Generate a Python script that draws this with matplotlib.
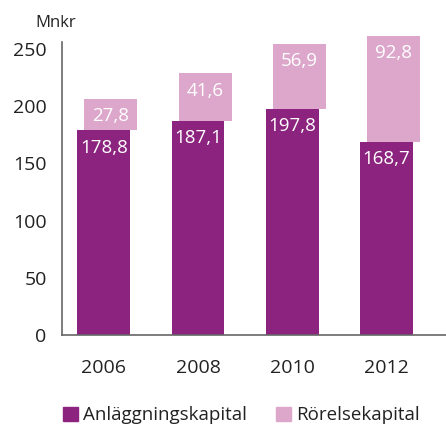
import matplotlib
matplotlib.use('Agg')
import matplotlib.pyplot as plt
from matplotlib.patches import Patch

plt.rcParams['font.family'] = ['Open Sans', 'DejaVu Sans']

years = ['2006', '2008', '2010', '2012']
anlaggning = [178.8, 187.1, 197.8, 168.7]
rorelse = [27.8, 41.6, 56.9, 92.8]
labels_a = ['178,8', '187,1', '197,8', '168,7']
labels_r = ['27,8', '41,6', '56,9', '92,8']

purple = '#8C237E'
pink = '#DDA6CB'
txt = '#222222'

fig = plt.figure(figsize=(4.46, 4.29), dpi=100)
ax = fig.add_axes([0.139, 0.219, 0.861, 0.683])

x = range(len(years))
w = 0.56
off = 0.075
ax.bar(x, anlaggning, width=w, color=purple, zorder=2)
xr = [i + off for i in x]
ax.bar(xr, rorelse, width=w, bottom=anlaggning, color=pink, zorder=1, clip_on=False)

for i in x:
    ax.annotate(labels_a[i], (i, anlaggning[i]), xytext=(0, -12.5), textcoords='offset points',
                ha='center', va='center', color='white', fontsize=13.5, zorder=3)
    ax.annotate(labels_r[i], (i + off, anlaggning[i] + rorelse[i]), xytext=(0, -12.5),
                textcoords='offset points', ha='center', va='center', color='white',
                fontsize=13.5, zorder=3, annotation_clip=False)

ax.set_xlim(-0.443, 3.63)
ax.set_ylim(0, 256)
ax.set_yticks([0, 50, 100, 150, 200, 250])
ax.set_xticks(list(x))
ax.set_xticklabels(years)
ax.tick_params(axis='both', length=0, labelsize=14, colors=txt)
ax.tick_params(axis='y', pad=11)
ax.tick_params(axis='x', pad=17)
for s in ['top', 'right']:
    ax.spines[s].set_visible(False)
for s in ['left', 'bottom']:
    ax.spines[s].set_color('#666666')
    ax.spines[s].set_linewidth(1.2)

fig.text(0.079, 0.946, 'Mnkr', fontsize=12, color=txt, va='center')

handles = [Patch(color=purple, label='Anläggningskapital'),
           Patch(color=pink, label='Rörelsekapital')]
fig.legend(handles=handles, loc='center', bbox_to_anchor=(0.541, 0.032), ncol=2,
           frameon=False, fontsize=13.5, handlelength=0.8, handleheight=0.8,
           handletextpad=0.25, columnspacing=1.6, labelcolor=txt)

fig.savefig('out.png', dpi=100)
